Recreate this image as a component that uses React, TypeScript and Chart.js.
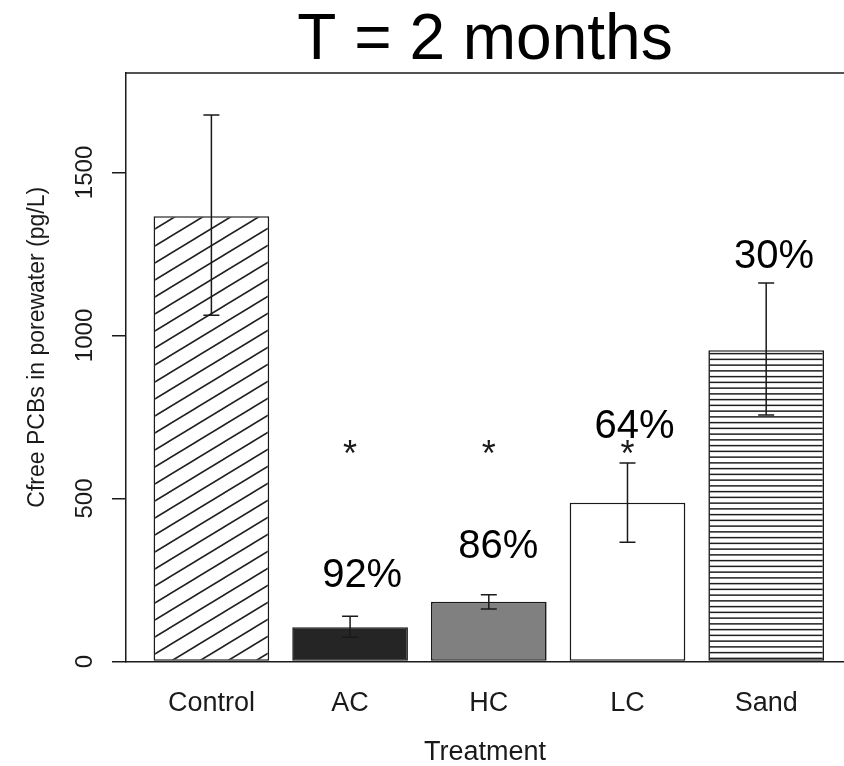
import { useEffect, useRef } from 'react';
import { Chart, registerables } from 'chart.js';

Chart.register(...registerables);

// ---- data ----
const categories = ['Control', 'AC', 'HC', 'LC', 'Sand'];
const means = [1366, 105, 183, 487, 955];
const errLow = [1062, 74, 161, 366, 756];
const errHigh = [1676, 139, 205, 609, 1161];
const pctLabels = ['92%', '86%', '64%', '30%'];
const pctX = [1.087, 2.068, 3.05, 4.056];
const pctY = [230, 317, 685, 1208];
const starX = [1, 2, 3];
const starY = [649, 649, 649];
const yTicks = [0, 500, 1000, 1500];

const FONT = '"Liberation Sans", Arial, Helvetica, sans-serif';
const INK = '#1a1a1a';

function makeDiagonal(): CanvasPattern | string {
  const c = document.createElement('canvas');
  c.width = 28;
  c.height = 17;
  const g = c.getContext('2d');
  if (!g) return '#fff';
  g.fillStyle = '#ffffff';
  g.fillRect(0, 0, 28, 17);
  g.strokeStyle = '#1f1f1f';
  g.lineWidth = 1.6;
  for (let k = -1; k <= 1; k++) {
    g.beginPath();
    g.moveTo(-28, 34 + 17 * k);
    g.lineTo(56, -17 + 17 * k);
    g.stroke();
  }
  return g.createPattern(c, 'repeat') || '#fff';
}

function makeStripes(): CanvasPattern | string {
  const c = document.createElement('canvas');
  c.width = 4;
  c.height = 23;
  const g = c.getContext('2d');
  if (!g) return '#fff';
  g.fillStyle = '#ffffff';
  g.fillRect(0, 0, 4, 23);
  g.strokeStyle = '#1f1f1f';
  g.lineWidth = 1.5;
  for (let k = 0; k < 4; k++) {
    const yy = 2.875 + 5.75 * k;
    g.beginPath();
    g.moveTo(0, yy);
    g.lineTo(4, yy);
    g.stroke();
  }
  return g.createPattern(c, 'repeat') || '#fff';
}

const overlay = {
  id: 'overlay',
  afterDatasetsDraw(chart: any) {
    const { ctx, chartArea, scales } = chart;
    const x = scales.x;
    const y = scales.y;
    ctx.save();
    // top frame line
    ctx.strokeStyle = INK;
    ctx.lineWidth = 1.5;
    ctx.beginPath();
    ctx.moveTo(chartArea.left, chartArea.top);
    ctx.lineTo(chartArea.right, chartArea.top);
    ctx.stroke();

    // error bars
    ctx.lineWidth = 1.5;
    categories.forEach((_, i) => {
      const px = x.getPixelForValue(i);
      const lo = y.getPixelForValue(errLow[i]);
      const hi = y.getPixelForValue(errHigh[i]);
      ctx.beginPath();
      ctx.moveTo(px, lo);
      ctx.lineTo(px, hi);
      ctx.moveTo(px - 8, lo);
      ctx.lineTo(px + 8, lo);
      ctx.moveTo(px - 8, hi);
      ctx.lineTo(px + 8, hi);
      ctx.stroke();
    });

    // asterisks
    ctx.fillStyle = INK;
    ctx.textAlign = 'center';
    ctx.textBaseline = 'alphabetic';
    const starSize = 36;
    ctx.font = `${starSize}px ${FONT}`;
    starX.forEach((sx, i) => {
      const px = x.getPixelForValue(sx);
      const py = y.getPixelForValue(starY[i]);
      ctx.fillText('*', px, py + 0.46 * starSize);
    });

    // percentage labels
    ctx.fillStyle = '#000';
    ctx.font = `40px ${FONT}`;
    pctLabels.forEach((t, i) => {
      ctx.fillText(t, x.getPixelForValue(pctX[i]), y.getPixelForValue(pctY[i]));
    });

    // y-axis title
    ctx.save();
    ctx.translate(37.5, (chartArea.top + chartArea.bottom) / 2 - 20);
    ctx.rotate(-Math.PI / 2);
    ctx.textAlign = 'center';
    ctx.textBaseline = 'middle';
    ctx.font = `23px ${FONT}`;
    ctx.fillStyle = INK;
    ctx.fillText('Cfree PCBs in porewater (pg/L)', 0, 0);
    ctx.restore();

    ctx.restore();
  },
};

export default function App() {
  const ref = useRef<HTMLCanvasElement | null>(null);

  useEffect(() => {
    document.body.style.margin = '0';
    const canvas = ref.current;
    if (!canvas) return;
    const fills = [makeDiagonal(), '#252525', '#808080', '#ffffff', makeStripes()];
    const chart = new Chart(canvas, {
      type: 'bar',
      data: {
        datasets: [
          {
            data: means.map((v, i) => ({ x: i, y: v })),
            backgroundColor: fills as any,
            borderColor: INK,
            borderWidth: 1.6,
            borderSkipped: false,
            categoryPercentage: 1,
            barPercentage: 0.834,
          },
        ],
      },
      options: {
        animation: false,
        responsive: false,
        layout: { padding: 0 },
        plugins: {
          legend: { display: false },
          tooltip: { enabled: false },
          title: {
            display: true,
            text: 'T = 2 months',
            fullSize: false,
            color: '#000',
            font: { family: FONT, size: 64, weight: 'normal', lineHeight: 1 },
            padding: { top: 9, bottom: 0 },
          },
        },
        scales: {
          x: {
            type: 'linear',
            min: -0.6157,
            max: 4.561,
            offset: false,
            afterBuildTicks: (s: any) => {
              s.ticks = categories.map((_, i) => ({ value: i }));
            },
            afterFit: (s: any) => {
              s.height = 104.5;
            },
            ticks: {
              autoSkip: false,
              maxRotation: 0,
              minRotation: 0,
              padding: 28.5,
              color: INK,
              font: { family: FONT, size: 27, lineHeight: 1 },
              callback: (v: any) => categories[Math.round(Number(v))] ?? '',
            },
            grid: { display: false, drawTicks: false },
            border: { display: true, color: INK, width: 1.5 },
            title: {
              display: true,
              text: 'Treatment',
              color: INK,
              font: { family: FONT, size: 27, lineHeight: 1 },
              padding: { top: 0, bottom: 0 },
            },
          },
          y: {
            type: 'linear',
            min: 0,
            max: 1805,
            afterBuildTicks: (s: any) => {
              s.ticks = yTicks.map((v) => ({ value: v }));
            },
            afterFit: (s: any) => {
              s.width = 126;
            },
            ticks: {
              minRotation: 90,
              maxRotation: 90,
              crossAlign: 'center',
              padding: 0,
              color: INK,
              font: { family: FONT, size: 24 },
              callback: (v: any) => String(v),
            },
            grid: {
              display: true,
              drawOnChartArea: false,
              drawTicks: true,
              tickLength: 14,
              color: INK,
              lineWidth: 1.5,
            },
            border: { display: true, color: INK, width: 1.5 },
          },
        },
      },
      plugins: [overlay],
    });
    return () => chart.destroy();
  }, []);

  return (
    <div style={{ width: 844, height: 766, background: '#fff' }}>
      <canvas ref={ref} width={844} height={766} style={{ display: 'block' }} />
    </div>
  );
}
